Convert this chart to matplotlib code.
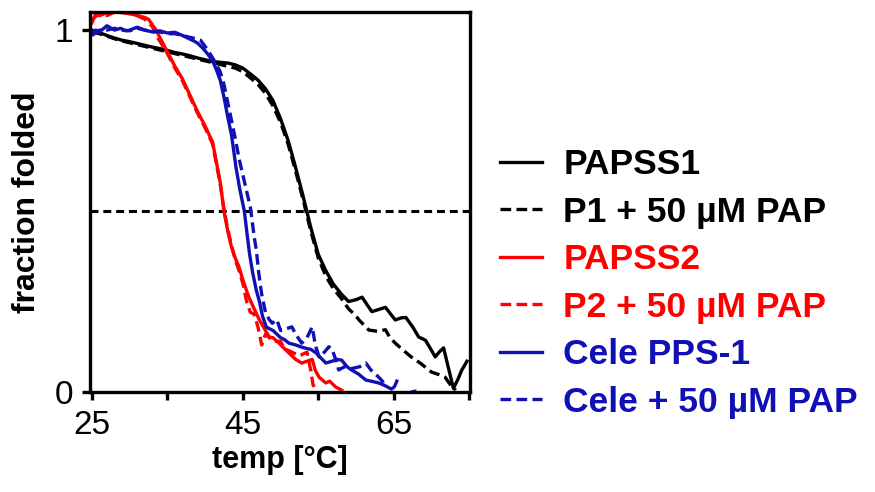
import matplotlib
matplotlib.use("Agg")
import matplotlib.pyplot as plt

plt.rcParams['font.family'] = ['Liberation Sans', 'DejaVu Sans']

# ---- data (temperature in °C, fraction folded) ----
p1_T = [25, 26, 27, 28, 29, 30, 31, 32, 33, 34, 35, 36, 37, 38, 39, 40, 41, 42, 43, 44,
        45, 46, 47, 48, 49, 50, 51, 52, 53, 54, 55, 56, 57, 58, 59, 60, 60.8, 61.5, 62.1,
        63, 63.9, 64.6, 65.2, 66, 66.6, 67.5, 68.3, 69.2, 70, 70.5, 71, 71.6, 72.2, 72.9,
        73.5, 74.0, 74.7]
p1_f = [1.0, 0.993, 0.985, 0.978, 0.972, 0.968, 0.963, 0.958, 0.953, 0.949, 0.944, 0.938,
        0.934, 0.929, 0.923, 0.918, 0.913, 0.911, 0.909, 0.904, 0.895, 0.879, 0.862, 0.838,
        0.805, 0.755, 0.695, 0.62, 0.54, 0.455, 0.38, 0.335, 0.298, 0.272, 0.25, 0.255,
        0.262, 0.24, 0.222, 0.228, 0.234, 0.215, 0.199, 0.205, 0.206, 0.18, 0.152, 0.143,
        0.115, 0.097, 0.11, 0.122, 0.07, 0.01, 0.035, 0.06, 0.085]

p1pap_T = [25, 26, 27, 28, 29, 30, 31, 32, 33, 34, 35, 36, 37, 38, 39, 40, 41, 42, 43, 44,
           45, 46, 47, 48, 49, 50, 51, 52, 53, 54, 55, 56, 57, 58, 59, 60, 60.4, 61.7, 62.8,
           63.9, 64.5, 65.2, 66, 67.3, 68.5, 70, 71, 71.8, 72.5, 73.2]
p1pap_f = [0.995, 0.99, 0.983, 0.976, 0.97, 0.965, 0.96, 0.955, 0.95, 0.945, 0.94, 0.935,
           0.93, 0.925, 0.92, 0.915, 0.91, 0.905, 0.9, 0.895, 0.885, 0.868, 0.85, 0.825,
           0.79, 0.745, 0.685, 0.61, 0.53, 0.445, 0.37, 0.32, 0.285, 0.26, 0.23, 0.21,
           0.199, 0.171, 0.168, 0.172, 0.15, 0.135, 0.12, 0.097, 0.08, 0.055, 0.048, 0.041,
           0.02, 0.005]

p2_T = [25, 25.5, 26, 27, 28, 29, 30, 31, 32, 32.5, 33, 33.5, 34, 35, 36, 37, 38, 39, 40,
        41, 42, 42.5, 43, 43.5, 44, 44.5, 45, 45.8, 46.5, 47.2, 48, 48.5, 49, 49.8, 50.5,
        51.1, 52, 52.8, 53.5, 54.2, 54.6, 55.1, 56, 56.5, 57.3, 58.1]
p2_f = [1.02, 1.045, 1.04, 1.048, 1.05, 1.05, 1.046, 1.04, 1.035, 1.03, 1.015, 1.0, 0.98,
        0.94, 0.9, 0.865, 0.82, 0.775, 0.735, 0.69, 0.58, 0.5, 0.445, 0.4, 0.37, 0.345,
        0.31, 0.262, 0.23, 0.199, 0.17, 0.152, 0.15, 0.135, 0.12, 0.108, 0.09, 0.08, 0.085,
        0.09, 0.06, 0.041, 0.025, 0.03, 0.014, 0.005]

p2pap_T = [25, 26, 27, 28, 29, 30, 31, 32, 33, 33.5, 34, 35, 36, 37, 38, 39, 40, 41, 42,
           42.5, 43, 43.5, 44, 44.5, 45, 45.5, 46, 46.5, 47, 47.5, 48, 49, 50, 50.5, 51.5,
           52.5, 53.5, 54, 54.3, 54.7]
p2pap_f = [1.03, 1.045, 1.04, 1.05, 1.048, 1.045, 1.04, 1.03, 1.01, 0.985, 0.97, 0.935,
           0.895, 0.86, 0.815, 0.77, 0.73, 0.685, 0.575, 0.505, 0.45, 0.405, 0.365, 0.335,
           0.3, 0.25, 0.22, 0.215, 0.18, 0.13, 0.16, 0.14, 0.14, 0.12, 0.11, 0.1, 0.11,
           0.06, 0.02, 0.005]

cele_T = [25, 25.5, 26, 27, 28, 28.8, 29.5, 30, 31, 32, 33, 34, 35, 36, 37, 37.7, 38.5, 39,
          39.7, 40.3, 41, 41.5, 42, 42.5, 43, 43.5, 44.1, 44.6, 45.2, 45.6, 45.9, 46.3,
          46.8, 47.2, 47.6, 48.1, 48.5, 49, 49.5, 50, 50.5, 51.1, 52, 52.8, 53.5, 54, 54.7,
          55.3, 56, 56.8, 57.5, 58.1, 58.8, 59.4, 60.3, 61.3, 62, 63, 63.8, 64.7, 65.1, 65.4]
cele_f = [0.99, 1.0, 0.995, 1.012, 1.0, 1.005, 0.998, 1.0, 1.008, 1.0, 0.995, 0.998, 0.992,
          0.994, 0.985, 0.978, 0.97, 0.964, 0.95, 0.935, 0.915, 0.89, 0.862, 0.815, 0.76,
          0.71, 0.62, 0.56, 0.5, 0.43, 0.38, 0.33, 0.28, 0.25, 0.21, 0.18, 0.175, 0.17,
          0.16, 0.15, 0.145, 0.135, 0.13, 0.124, 0.12, 0.118, 0.108, 0.095, 0.08, 0.085,
          0.09, 0.088, 0.07, 0.061, 0.05, 0.033, 0.03, 0.025, 0.018, 0.008, 0.015, 0.03]

celepap_T = [25, 26, 27, 28, 29, 30, 31, 32, 33, 34, 35, 36, 37, 38, 39, 39.4, 40, 40.8,
             41.5, 42, 42.5, 43, 43.5, 44, 44.5, 45, 45.5, 46, 46.5, 46.8, 47.1, 47.5, 48,
             48.5, 48.9, 49.5, 50, 50.8, 51.5, 52, 52.8, 53.5, 54.2, 54.6, 55.1, 55.8, 56.4,
             56.8, 57.3, 57.7, 58.5, 59.5, 60.5, 61.3, 62, 63, 63.5, 63.9]
celepap_f = [0.985, 1.0, 1.0, 1.005, 1.0, 0.998, 1.005, 1.0, 0.996, 0.995, 0.99, 0.99,
             0.985, 0.98, 0.975, 0.972, 0.955, 0.93, 0.905, 0.885, 0.85, 0.8, 0.75, 0.7,
             0.645, 0.6, 0.555, 0.51, 0.43, 0.39, 0.33, 0.27, 0.22, 0.2, 0.19, 0.2, 0.17,
             0.175, 0.18, 0.16, 0.135, 0.15, 0.18, 0.13, 0.097, 0.11, 0.125, 0.12, 0.09,
             0.061, 0.07, 0.065, 0.07, 0.08, 0.06, 0.041, 0.03, 0.014]
celepap_dot_T = [67.4, 67.8]
celepap_dot_f = [0.0, 0.002]

labels = ['PAPSS1', 'P1 + 50 µM PAP', 'PAPSS2', 'P2 + 50 µM PAP', 'Cele PPS-1',
          'Cele + 50 µM PAP']
x_ticks = [25, 35, 45, 55, 65, 75]
x_ticklabels = ['25', '', '45', '', '65', '']
y_ticks = [0, 1]
y_ticklabels = ['0', '1']

BLACK = 'black'
RED = '#ff0000'
BLUE = '#1010b4'

fig = plt.figure(figsize=(8.75, 4.92), dpi=100)
ax = fig.add_axes([90 / 875, 1 - 392 / 492, 380 / 875, 380 / 492])

lw = 2.4
dash = (3.2, 1.6)
ax.axhline(0.5, color='black', lw=2.2, linestyle=(0, (2.6, 1.6)), zorder=1)
ax.plot(p1_T, p1_f, color=BLACK, lw=lw, label=labels[0], zorder=3)
ax.plot(p1pap_T, p1pap_f, color=BLACK, lw=lw, linestyle=(0, dash), label=labels[1], zorder=3)
ax.plot(p2_T, p2_f, color=RED, lw=lw, label=labels[2], zorder=3)
ax.plot(p2pap_T, p2pap_f, color=RED, lw=lw, linestyle=(0, dash), label=labels[3], zorder=3)
ax.plot(cele_T, cele_f, color=BLUE, lw=lw, label=labels[4], zorder=3)
ax.plot(celepap_T, celepap_f, color=BLUE, lw=lw, linestyle=(0, dash), label=labels[5], zorder=3)
ax.plot(celepap_dot_T, celepap_dot_f, color=BLUE, lw=lw, zorder=3)

ax.set_xlim(24.75, 75.1)
ax.set_ylim(0, 1.05)
ax.set_xticks(x_ticks)
ax.set_xticklabels(x_ticklabels)
ax.set_yticks(y_ticks)
ax.set_yticklabels(y_ticklabels)
ax.tick_params(axis='both', direction='out', length=6, width=2.4, labelsize=24, pad=6)
ax.tick_params(axis='x', pad=7)
for s in ax.spines.values():
    s.set_linewidth(2.4)
    s.set_zorder(4)

ax.set_xlabel('temp [°C]', fontsize=22, fontweight='bold', labelpad=3)
ax.set_ylabel('fraction folded', fontsize=23, fontweight='bold', labelpad=9)

leg = ax.legend(loc='upper left', bbox_to_anchor=(500 / 875, 1 - 148 / 492),
                bbox_transform=fig.transFigure, frameon=False,
                prop={'weight': 'bold', 'size': 25.5}, handlelength=1.19,
                handletextpad=0.6, labelspacing=0.41, borderaxespad=0,
                borderpad=0)
for t, c in zip(leg.get_texts(), [BLACK, BLACK, RED, RED, BLUE, BLUE]):
    t.set_color(c)

fig.savefig('out.png', dpi=100)
